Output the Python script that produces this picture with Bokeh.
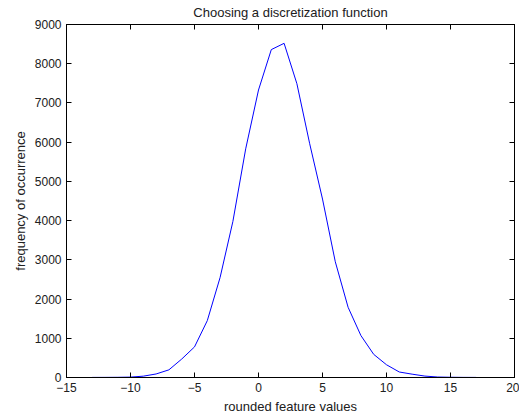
from bokeh.plotting import figure
from bokeh.models import LinearAxis, FixedTicker, Range1d, CustomJSTickFormatter
from bokeh.embed import file_html
from bokeh.resources import INLINE

# data
feature_values = [-13, -12, -11, -10, -9, -8, -7, -6, -5, -4, -3, -2, -1, 0, 1, 2,
                  3, 4, 5, 6, 7, 8, 9, 10, 11, 12, 13, 14, 15, 16, 17]
frequency = [2, 3, 5, 10, 34, 90, 195, 470, 780, 1450, 2550, 3980, 5830, 7330, 8360, 8520,
             7490, 5960, 4550, 2950, 1790, 1070, 590, 325, 140, 85, 36, 12, 6, 3, 2]
x_ticks = [-15, -10, -5, 0, 5, 10, 15, 20]
y_ticks = [0, 1000, 2000, 3000, 4000, 5000, 6000, 7000, 8000, 9000]

FONT = "Liberation Sans"

p = figure(frame_width=448, frame_height=353, output_backend="svg", toolbar_location=None,
           x_range=Range1d(-15, 20), y_range=Range1d(0, 9000),
           title="Choosing a discretization function",
           min_border_left=66, min_border_right=5, min_border_top=24, min_border_bottom=40)
p.background_fill_color = "white"
p.border_fill_color = "white"
p.outline_line_color = "black"
p.grid.visible = False

p.title.text_font = FONT
p.title.text_font_size = "13px"
p.title.text_font_style = "normal"
p.title.align = "center"
p.title.vertical_align = "top"
p.title.text_color = "#202020"
p.title.standoff = 6

p.line(feature_values, frequency, line_color="#0000ff", line_width=1)

for ax in (p.xaxis[0], p.yaxis[0]):
    ax.major_label_text_font = FONT
    ax.major_label_text_font_size = "12px"
    ax.major_label_text_color = "#202020"
    ax.axis_label_text_font = FONT
    ax.axis_label_text_font_size = "13px"
    ax.axis_label_text_font_style = "normal"
    ax.axis_label_text_color = "#202020"
    ax.major_tick_in = 5
    ax.major_tick_out = 0
    ax.minor_tick_line_color = None
    ax.axis_line_color = "black"
    ax.major_tick_line_color = "black"
    ax.major_label_standoff = 5
    ax.axis_label_standoff = 4

p.xaxis[0].ticker = FixedTicker(ticks=x_ticks)
p.yaxis[0].ticker = FixedTicker(ticks=y_ticks)
p.xaxis[0].axis_label = "rounded feature values"
p.yaxis[0].axis_label = "frequency of occurrence"

blank = CustomJSTickFormatter(code="return '';")
top = LinearAxis(ticker=FixedTicker(ticks=x_ticks), formatter=blank,
                 major_tick_in=5, major_tick_out=0, minor_tick_line_color=None,
                 major_label_standoff=0)
right = LinearAxis(ticker=FixedTicker(ticks=y_ticks), formatter=blank,
                   major_tick_in=5, major_tick_out=0, minor_tick_line_color=None,
                   major_label_standoff=0)
p.add_layout(top, "above")
p.add_layout(right, "right")

open("out.html", "w").write(file_html(p, INLINE))
